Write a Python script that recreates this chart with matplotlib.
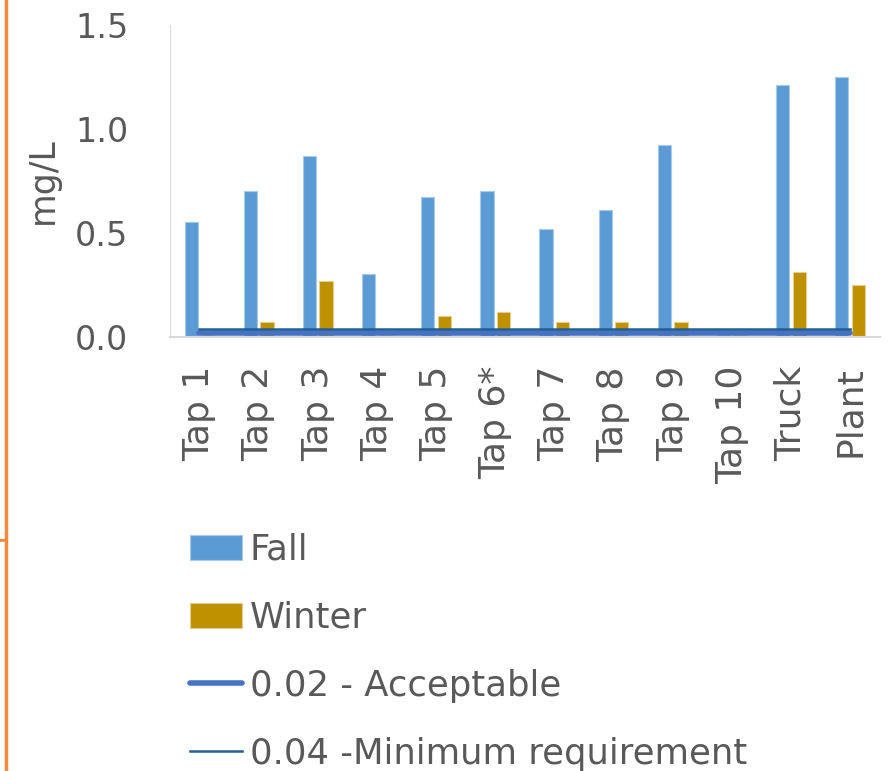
import numpy as np
import matplotlib.pyplot as plt
from matplotlib.lines import Line2D

plt.rcParams['font.family'] = ['DejaVu Sans']

categories = ['Tap 1', 'Tap 2', 'Tap 3', 'Tap 4', 'Tap 5', 'Tap 6*', 'Tap 7',
              'Tap 8', 'Tap 9', 'Tap 10', 'Truck', 'Plant']
fall = [0.55, 0.70, 0.87, 0.30, 0.67, 0.70, 0.52, 0.61, 0.92, 0.01, 1.21, 1.25]
winter = [0.01, 0.07, 0.27, 0.01, 0.10, 0.12, 0.07, 0.07, 0.07, 0.01, 0.31, 0.25]
acceptable = [0.02, 0.02, 0.02, 0.02, 0.02, 0.02, 0.02, 0.02, 0.02, 0.02, 0.02, 0.02]
minimum = [0.04, 0.04, 0.04, 0.04, 0.04, 0.04, 0.04, 0.04, 0.04, 0.04, 0.04, 0.04]
yticks = [0.0, 0.5, 1.0, 1.5]

txt = '#595959'
fig = plt.figure(figsize=(8.94, 7.71), dpi=100)
ax = fig.add_axes([0.190, 0.563, 0.794, 0.405])

x = np.arange(len(categories))
w = 0.225
b1 = ax.bar(x - 0.14, fall, w, color='#5B9BD5', edgecolor='#a9c9ea', linewidth=0.8, label='Fall', zorder=2)
b2 = ax.bar(x + 0.14, winter, w, color='#BF9000', edgecolor='#e3cf8f', linewidth=0.8, label='Winter', zorder=2)
l1, = ax.plot(x, acceptable, color='#4472C4', lw=4, solid_capstyle='round', zorder=3)
l2, = ax.plot(x, minimum, color='#255E91', lw=1.8, zorder=4)

ax.set_xlim(-0.5, 11.5)
ax.set_ylim(0, 1.5)
ax.set_yticks(yticks)
ax.set_yticklabels(['%.1f' % v for v in yticks])
ax.set_xticks(x)
ax.set_xticklabels(categories, rotation=90, va='top', ha='center')
ax.tick_params(axis='both', length=0, labelcolor=txt)
ax.tick_params(axis='y', pad=30, labelsize=24)
ax.tick_params(axis='x', pad=21, labelsize=26)
ax.set_ylabel('mg/L', fontsize=25, color=txt)
ax.yaxis.set_label_coords(-0.155, 0.5)

for s in ['top', 'right']:
    ax.spines[s].set_visible(False)
ax.spines['left'].set_color('#d9d9d9')
ax.spines['bottom'].set_color('#d9d9d9')
ax.spines['bottom'].set_linewidth(1.5)

fig.legend([b1, b2, l1, l2],
           ['Fall', 'Winter', '0.02 - Acceptable', '0.04 -Minimum requirement'],
           loc='upper left', bbox_to_anchor=(0.213, 0.309), frameon=False,
           fontsize=25.5, labelcolor=txt, handlelength=1.47, handleheight=0.68,
           handletextpad=0.2, labelspacing=0.96, borderaxespad=0, borderpad=0)

# orange frame edge at the left
fig.add_artist(Line2D([0.0067, 0.0067], [0, 1], color='#F58A3F', lw=2.5, transform=fig.transFigure))
fig.add_artist(Line2D([0, 0.0067], [1 - 540 / 771, 1 - 540 / 771], color='#F58A3F', lw=2, transform=fig.transFigure))

fig.savefig('out.png', dpi=100)
